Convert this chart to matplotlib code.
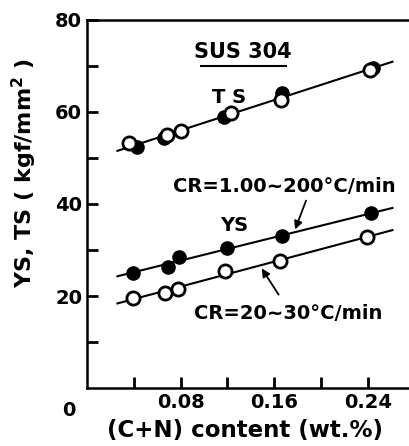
import matplotlib
matplotlib.use("Agg")
import matplotlib.pyplot as plt
import numpy as np

# Data
ts_open_x = [0.036, 0.068, 0.080, 0.123, 0.166, 0.242]
ts_open_y = [53.3, 55.0, 55.9, 59.8, 62.6, 69.1]
ts_fill_x = [0.043, 0.066, 0.117, 0.167, 0.244]
ts_fill_y = [52.4, 54.3, 58.9, 64.1, 69.6]

ys_fast_x = [0.039, 0.069, 0.079, 0.120, 0.167, 0.243]
ys_fast_y = [25.0, 26.3, 28.5, 30.4, 33.0, 38.0]
ys_slow_x = [0.039, 0.067, 0.078, 0.118, 0.165, 0.239]
ys_slow_y = [19.6, 20.7, 21.5, 25.4, 27.6, 32.8]

fit_range = [0.026, 0.261]
x_major = [0.04, 0.08, 0.12, 0.16, 0.20, 0.24]
x_labels = ["", "0.08", "", "0.16", "", "0.24"]
y_major = [20, 40, 60, 80]
y_minor = [10, 30, 50, 70]

plt.rcParams['font.family'] = ['DejaVu Sans']
plt.rcParams['font.weight'] = 'bold'
plt.rcParams['axes.labelweight'] = 'bold'

fig = plt.figure(figsize=(4.10, 4.46), dpi=100)
ax = fig.add_axes([87/410, (446-388)/446, 1 - 87/410, (388-20)/446])

lw = 1.5
ms = 9.5
xs = np.array(fit_range)

# fitted lines
ts_all_x = np.array(ts_open_x + ts_fill_x)
ts_all_y = np.array(ts_open_y + ts_fill_y)
for X, Y in [(ts_all_x, ts_all_y), (np.array(ys_fast_x), np.array(ys_fast_y)),
             (np.array(ys_slow_x), np.array(ys_slow_y))]:
    p = np.polyfit(X, Y, 1)
    ax.plot(xs, np.polyval(p, xs), color='black', lw=lw, zorder=1)

ax.plot(ts_fill_x, ts_fill_y, 'o', color='black', ms=ms, zorder=2)
ax.plot(ts_open_x, ts_open_y, 'o', mfc='white', mec='black', mew=2, ms=ms, zorder=3)
ax.plot(ys_fast_x, ys_fast_y, 'o', color='black', ms=ms, zorder=2)
ax.plot(ys_slow_x, ys_slow_y, 'o', mfc='white', mec='black', mew=2, ms=ms, zorder=3)

ax.set_xlim(0, 0.276)
ax.set_ylim(0, 80)
ax.set_xticks(x_major)
ax.set_xticklabels(x_labels)
ax.set_yticks(y_major)
ax.set_yticks(y_minor, minor=True)
ax.tick_params(axis='both', which='both', direction='in', width=2, labelsize=14)
ax.tick_params(axis='both', which='major', length=8)
ax.tick_params(axis='y', which='minor', length=8)
for s in ['left', 'bottom', 'top']:
    ax.spines[s].set_linewidth(1.8)
ax.spines['right'].set_visible(False)

ax.text(-0.055, -0.06, "0", transform=ax.transAxes, fontsize=14, ha='center', va='center')

ax.set_ylabel("YS, TS ( kgf/mm$^\\mathbf{2}$ )", fontsize=16, fontweight='bold')
ax.yaxis.label.set_va('center')
ax.yaxis.set_label_coords(-0.195, 0.585)
ax.set_xlabel("(C+N) content (wt.%)", fontsize=16.5, fontweight='bold')
ax.xaxis.label.set_va('center')
ax.xaxis.set_label_coords(0.49, -0.115)

# annotations
ax.text(0.133, 73.0, "SUS 304", fontsize=15, ha='center', va='center')
ax.plot([0.097, 0.170], [70.0, 70.0], color='black', lw=1.5, clip_on=False)
ax.text(0.121, 63.2, "T S", fontsize=14, ha='center', va='center')
ax.text(0.169, 43.7, "CR=1.00~200°C/min", fontsize=14, ha='center', va='center')
ax.text(0.126, 35.3, "YS", fontsize=14, ha='center', va='center')
ax.text(0.172, 16.1, "CR=20~30°C/min", fontsize=14, ha='center', va='center')
ax.annotate("", xy=(0.177, 33.9), xytext=(0.188, 41.3),
            arrowprops=dict(arrowstyle='-|>', color='black', lw=1.3, mutation_scale=12))
ax.annotate("", xy=(0.148, 26.5), xytext=(0.165, 19.8),
            arrowprops=dict(arrowstyle='-|>', color='black', lw=1.3, mutation_scale=12))

fig.savefig("out.png", dpi=100)
